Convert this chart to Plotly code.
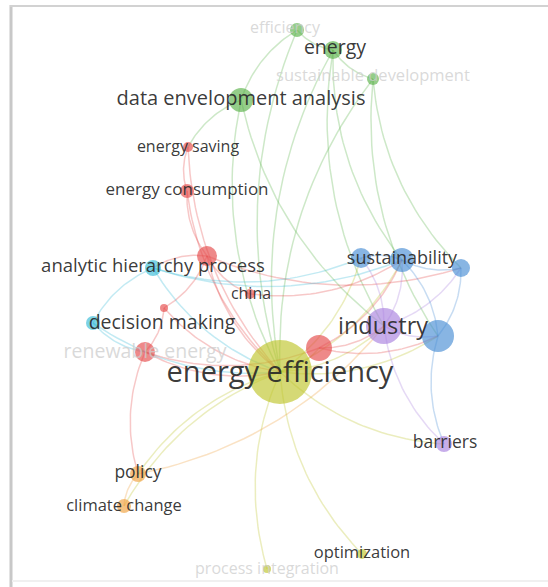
import plotly.graph_objects as go
import numpy as np

# ---- data (VOSviewer-like map coordinates) ----
names = ["efficiency", "energy", "sustainable development", "data envelopment analysis",
         "energy saving", "energy consumption", "", "analytic hierarchy process", "china", "",
         "decision making", "renewable energy", "energy efficiency", "", "industry", "",
         "sustainability", "", "", "barriers", "policy", "climate change",
         "process integration", "optimization"]
node_x = [297, 333, 373, 241, 188, 187, 207, 153, 250, 164, 93, 145, 280, 319, 384, 438,
          402, 361, 461, 444, 138, 124, 267, 362]
node_y = [30, 50, 79, 100, 147, 191, 256, 268, 294, 308, 323, 352, 372, 348, 326, 336,
          260, 258, 268, 444, 474, 506, 569, 554]
node_r = [7, 9, 6, 12, 5, 7, 10, 8, 5, 4, 7, 10, 32, 13, 18, 16, 12, 10, 9, 8, 8, 7, 4, 5]
cluster = ["green", "green", "green", "green", "red", "red", "red", "cyan", "red", "red",
           "cyan", "red", "ygreen", "red", "purple", "blue", "blue", "blue", "blue", "purple",
           "orange", "orange", "ygreen", "ygreen"]
label_x = [285, 335, 373, 241, 188, 187, 207, 153, 251, 164, 162, 145, 280, 319, 383, 438,
           402, 361, 461, 445, 138, 124, 267, 362]
label_y = [29, 49, 77, 100, 148, 191, 256, 267, 295, 308, 324, 353, 375, 348, 328, 336,
           259, 258, 268, 444, 474, 507, 570, 554]
label_size = [16, 19.5, 16.5, 20, 16, 17, 14, 18.5, 16, 14, 19.5, 19.5, 29, 14, 23.5, 14,
              18, 14, 14, 17.5, 17.5, 16.5, 16, 16.5]
faded = [True, False, True, False, False, False, False, False, False, False, False, True,
         False, False, False, False, False, False, False, False, False, False, True, False]

edges = [(0, 1), (1, 2), (0, 3), (3, 4), (3, 12), (0, 12), (1, 12), (2, 12), (1, 14),
         (2, 15), (2, 18), (1, 16), (4, 5), (4, 12), (5, 6), (5, 12), (6, 7), (6, 8),
         (6, 12), (6, 18), (7, 10), (7, 16), (7, 12), (7, 17), (9, 12), (9, 6), (10, 11),
         (10, 12), (11, 12), (11, 13), (11, 20), (11, 9), (12, 13), (12, 14), (12, 15),
         (12, 16), (12, 17), (12, 19), (12, 20), (12, 21), (12, 22), (12, 23), (13, 14),
         (13, 15), (13, 16), (14, 15), (14, 16), (14, 17), (14, 18), (14, 19), (15, 19),
         (15, 16), (15, 18), (16, 17), (16, 18), (20, 21), (20, 14), (8, 16), (3, 14)]

palette = {
    "green": (88, 178, 72),
    "red": (229, 72, 72),
    "cyan": (52, 186, 214),
    "blue": (70, 140, 212),
    "purple": (168, 128, 222),
    "ygreen": (190, 196, 40),
    "orange": (240, 160, 60),
}

fig = go.Figure()

# ---- edges as curved lines ----
t = np.linspace(0, 1, 30)
for i, j in edges:
    x0, y0, x1, y1 = node_x[i], node_y[i], node_x[j], node_y[j]
    dx, dy = x1 - x0, y1 - y0
    mx, my = (x0 + x1) / 2 - 0.18 * dy, (y0 + y1) / 2 + 0.18 * dx
    bx = (1 - t) ** 2 * x0 + 2 * (1 - t) * t * mx + t ** 2 * x1
    by = (1 - t) ** 2 * y0 + 2 * (1 - t) * t * my + t ** 2 * y1
    r, g, b = palette[cluster[i]]
    fig.add_trace(go.Scatter(x=bx, y=by, mode="lines",
                             line=dict(color=f"rgba({r},{g},{b},0.3)", width=1.5),
                             hoverinfo="skip", showlegend=False))

# ---- nodes ----
cols = [f"rgba({palette[c][0]},{palette[c][1]},{palette[c][2]},0.92)" for c in cluster]
order = np.argsort(node_r)
fig.add_trace(go.Scatter(x=[node_x[k] for k in order], y=[node_y[k] for k in order],
                         mode="markers",
                         marker=dict(size=[2 * node_r[k] for k in order],
                                     color=[cols[k] for k in order], line=dict(width=0)),
                         hovertext=[names[k] for k in order], showlegend=False))

# ---- labels ----
for flag, color in [(True, "rgba(205,205,205,0.75)"), (False, "rgba(40,40,40,0.92)")]:
    idx = [k for k in range(len(names)) if faded[k] == flag and names[k]]
    fig.add_trace(go.Scatter(x=[label_x[k] for k in idx], y=[label_y[k] for k in idx],
                             mode="text", text=[names[k] for k in idx],
                             textposition="middle center",
                             textfont=dict(family="Open Sans", color=color,
                                           size=[label_size[k] for k in idx]),
                             hoverinfo="skip", showlegend=False))

# ---- frame ----
fig.add_shape(type="line", x0=11, x1=11, y0=5, y1=587, line=dict(color="rgb(200,200,200)", width=3))
fig.add_shape(type="line", x0=10, x1=548, y0=6, y1=6, line=dict(color="rgb(210,210,210)", width=2))
fig.add_shape(type="line", x0=12, x1=548, y0=581, y1=581, line=dict(color="rgb(240,240,240)", width=2))

fig.update_layout(width=548, height=587, margin=dict(l=0, r=0, t=0, b=0),
                  paper_bgcolor="white", plot_bgcolor="white",
                  xaxis=dict(range=[0, 548], visible=False, fixedrange=True),
                  yaxis=dict(range=[587, 0], visible=False, fixedrange=True))
fig.write_html("out.html")
